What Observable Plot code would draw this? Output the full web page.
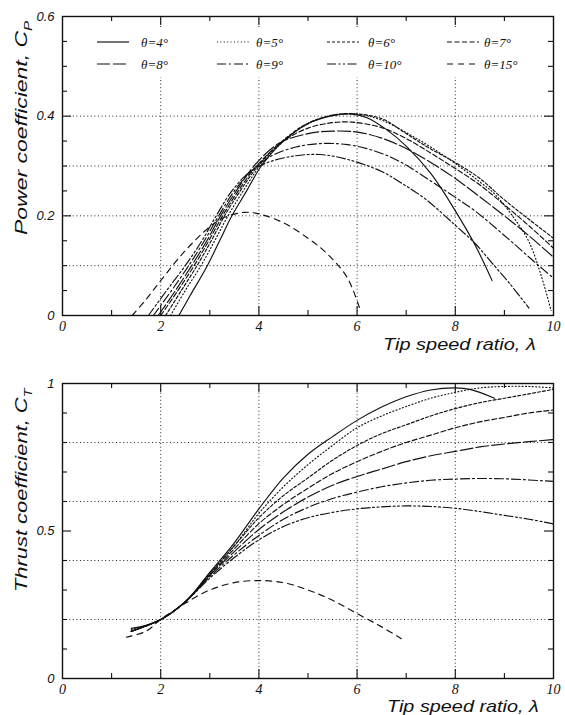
<!DOCTYPE html>
<html><head><meta charset="utf-8">
<script src="https://cdn.jsdelivr.net/npm/d3@7"></script>
<script src="https://cdn.jsdelivr.net/npm/@observablehq/plot@0.6"></script>
<style>
html,body{margin:0;padding:0;background:#fff;}
#wrap{width:565px;height:715px;overflow:hidden;}
#wrap svg{display:block;}
</style></head><body><div id="wrap"></div>
<script>
// ---------- data ----------
const theta = [4, 5, 6, 7, 8, 9, 10, 15];
const legendText = ["θ=4°", "θ=5°", "θ=6°", "θ=7°", "θ=8°", "θ=9°", "θ=10°", "θ=15°"];
const dashes = [null, "1,2.4", "3,2", "5,2.5", "13,3", "9,3,2,3", "9,2.5,2,2.5,2,2.5", "6,5"];

// Power coefficient Cp vs tip speed ratio
const cp4 = [[2.37,0],[2.6,0.04],[2.95,0.1],[3.2,0.15],[3.45,0.2],[3.75,0.25],[4.05,0.3],[4.5,0.35],[5,0.385],[5.5,0.401],[5.9,0.404],[6.2,0.397],[6.6,0.373],[7,0.34],[7.5,0.285],[8,0.21],[8.4,0.142],[8.75,0.07]];
const cp5 = [[2.2,0],[2.5,0.05],[2.82,0.1],[3.1,0.15],[3.37,0.2],[3.68,0.25],[4.02,0.3],[4.5,0.35],[5,0.385],[5.5,0.402],[6,0.404],[6.5,0.392],[7,0.367],[7.5,0.338],[8,0.305],[8.5,0.268],[8.8,0.244],[9.2,0.195],[9.5,0.148],[9.75,0.08],[9.95,0.01]];
const cp6 = [[2.1,0],[2.42,0.05],[2.74,0.1],[3.03,0.15],[3.3,0.2],[3.62,0.25],[3.98,0.3],[4.5,0.352],[5,0.386],[5.5,0.402],[5.9,0.405],[6.5,0.395],[7,0.365],[7.45,0.337],[8,0.307],[8.5,0.275],[9,0.232],[9.5,0.193],[10,0.155]];
const cp7 = [[2.0,0],[2.35,0.05],[2.68,0.1],[2.98,0.15],[3.26,0.2],[3.58,0.25],[3.95,0.3],[4.5,0.35],[5,0.376],[5.5,0.387],[5.9,0.388],[6.5,0.377],[7,0.355],[7.5,0.326],[8,0.295],[8.5,0.262],[9,0.222],[9.5,0.18],[10,0.135]];
const cp8 = [[1.95,0],[2.3,0.05],[2.63,0.1],[2.94,0.15],[3.22,0.2],[3.54,0.25],[3.9,0.3],[4.4,0.345],[5,0.365],[5.5,0.37],[6,0.368],[6.5,0.356],[7,0.335],[7.5,0.307],[8,0.275],[8.5,0.238],[9,0.2],[9.5,0.16],[10,0.117]];
const cp9 = [[1.85,0],[2.22,0.05],[2.57,0.1],[2.89,0.15],[3.18,0.2],[3.5,0.25],[3.85,0.29],[4.25,0.32],[4.75,0.338],[5.25,0.345],[5.8,0.343],[6.3,0.332],[6.85,0.31],[7.5,0.27],[8,0.237],[8.4,0.21],[9.1,0.152],[9.7,0.1],[10,0.075]];
const cp10 = [[1.75,0],[2.12,0.05],[2.5,0.1],[2.84,0.15],[3.13,0.2],[3.45,0.25],[3.8,0.287],[4.15,0.306],[4.65,0.319],[5.25,0.323],[5.85,0.312],[6.5,0.289],[6.9,0.266],[7.4,0.233],[8,0.181],[8.4,0.145],[8.75,0.105],[9.1,0.065],[9.5,0.015]];
const cp15 = [[1.42,0],[1.7,0.032],[2,0.07],[2.5,0.13],[3,0.178],[3.3,0.197],[3.7,0.207],[4,0.204],[4.5,0.186],[5,0.155],[5.4,0.123],[5.8,0.076],[6.05,0.015]];

// Thrust coefficient Ct vs tip speed ratio
const ct4 = [[1.4,0.17],[1.7,0.18],[2,0.2],[2.5,0.26],[3,0.36],[3.5,0.46],[4,0.575],[4.5,0.68],[5,0.76],[5.5,0.82],[6,0.875],[6.5,0.92],[7,0.955],[7.5,0.978],[8,0.985],[8.3,0.98],[8.8,0.95]];
const ct5 = [[1.4,0.165],[2,0.2],[2.5,0.26],[3,0.355],[3.5,0.45],[4,0.56],[4.5,0.65],[5,0.725],[5.5,0.79],[6,0.85],[6.5,0.89],[7,0.922],[7.5,0.95],[8,0.97],[8.5,0.985],[9,0.99],[9.5,0.99],[10,0.985]];
const ct6 = [[1.4,0.16],[2,0.2],[2.5,0.26],[3,0.355],[3.5,0.45],[4,0.545],[4.5,0.62],[5,0.68],[5.5,0.74],[6,0.79],[6.5,0.83],[7,0.86],[7.5,0.89],[8,0.915],[8.5,0.935],[9,0.95],[9.5,0.965],[10,0.98]];
const ct7 = [[1.4,0.16],[2,0.2],[2.5,0.26],[3,0.35],[3.5,0.44],[4,0.525],[4.5,0.59],[5,0.645],[5.5,0.695],[6,0.735],[6.5,0.77],[7,0.8],[7.5,0.825],[8,0.85],[8.5,0.87],[9,0.885],[9.5,0.9],[10,0.91]];
const ct8 = [[1.4,0.16],[2,0.2],[2.5,0.26],[3,0.35],[3.5,0.43],[4,0.505],[4.5,0.565],[5,0.615],[5.5,0.655],[6,0.685],[6.5,0.71],[7,0.735],[7.5,0.755],[8,0.77],[8.5,0.785],[9,0.795],[9.5,0.803],[10,0.81]];
const ct9 = [[1.4,0.16],[2,0.2],[2.5,0.26],[3,0.345],[3.5,0.42],[4,0.485],[4.5,0.54],[5,0.58],[5.5,0.61],[6,0.632],[6.5,0.65],[7,0.663],[7.5,0.672],[8,0.676],[8.5,0.678],[9,0.677],[9.5,0.673],[10,0.668]];
const ct10 = [[1.4,0.16],[2,0.2],[2.5,0.26],[3,0.34],[3.5,0.41],[4,0.47],[4.5,0.515],[5,0.545],[5.5,0.563],[6,0.575],[6.5,0.582],[7,0.585],[7.5,0.583],[8,0.577],[8.5,0.566],[9,0.553],[9.5,0.54],[10,0.524]];
const ct15 = [[1.3,0.14],[1.7,0.16],[2,0.2],[2.5,0.255],[3,0.3],[3.5,0.325],[4,0.332],[4.5,0.325],[5,0.3],[5.5,0.265],[6,0.22],[6.5,0.175],[6.9,0.135]];

// axes / ticks
const lamLabels = [0, 2, 4, 6, 8, 10];
const lamTicks = [1, 2, 3, 4, 5, 6, 7, 8, 9];
const lamGrid = [2, 4, 6, 8];
const cpLabels = [0, 0.2, 0.4, 0.6];
const cpTicks = [0.05, 0.1, 0.15, 0.2, 0.25, 0.3, 0.35, 0.4, 0.45, 0.5, 0.55];
const cpGrid = [0.1, 0.2, 0.3, 0.4];
const ctLabels = [0, 0.5, 1];
const ctTicks = [0.1, 0.2, 0.3, 0.4, 0.5, 0.6, 0.7, 0.8, 0.9];
const ctGrid = [0.2, 0.4, 0.6, 0.8];

const cpSeries = [cp4, cp5, cp6, cp7, cp8, cp9, cp10, cp15];
const ctSeries = [ct4, ct5, ct6, ct7, ct8, ct9, ct10, ct15];

// ---------- drawing ----------
const ink = "#111";
const serif = "'Liberation Serif','Times New Roman',serif";
const sans = "'Liberation Sans',Arial,Helvetica,sans-serif";
const W = 565;
const wrap = document.getElementById("wrap");

function isMajor(v, arr) { return arr.some(m => Math.abs(m - v) < 1e-9); }

function borderTicks(xAll, xMaj, yAll, yMaj, xDom, yDom, ux, uy) {
  const L = maj => maj ? 9 : 5;
  const c = {stroke: ink, strokeWidth: 1.1};
  return [
    Plot.ruleX(xAll, {x: d => d, y1: yDom[0], y2: d => yDom[0] + L(isMajor(d, xMaj)) * uy, ...c}),
    Plot.ruleX(xAll, {x: d => d, y1: yDom[1], y2: d => yDom[1] - L(isMajor(d, xMaj)) * uy, ...c}),
    Plot.ruleY(yAll, {y: d => d, x1: xDom[0], x2: d => xDom[0] + L(isMajor(d, yMaj)) * ux, ...c}),
    Plot.ruleY(yAll, {y: d => d, x1: xDom[1], x2: d => xDom[1] - L(isMajor(d, yMaj)) * ux, ...c})
  ];
}

function makePanel({series, yDom, height, mt, mb, grid, yLabels, yTicks, vgridTop}) {
  const innerH = height - mt - mb;
  const innerW = W - 62 - 12;
  const ux = 10 / innerW, uy = (yDom[1] - yDom[0]) / innerH;
  return Plot.plot({
    width: W, height, marginLeft: 62, marginRight: 12, marginTop: mt, marginBottom: mb,
    x: {domain: [0, 10]}, y: {domain: yDom},
    style: {background: "#fff", color: ink, overflow: "visible"},
    marks: [
      Plot.ruleY(grid, {stroke: ink, strokeWidth: 0.9, strokeDasharray: "1,2.6"}),
      Plot.ruleX(lamGrid, {y1: yDom[0], y2: vgridTop, stroke: ink, strokeWidth: 0.9, strokeDasharray: "1,2.6"}),
      ...series.map((s, i) => Plot.line(s, {
        x: d => d[0], y: d => d[1], curve: "catmull-rom",
        stroke: ink, strokeWidth: 1.15, strokeDasharray: dashes[i] || undefined
      })),
      ...borderTicks([...lamTicks], lamGrid, yTicks, yLabels, [0, 10], yDom, ux, uy),
      Plot.frame({stroke: ink, strokeWidth: 1.4}),
      Plot.axisX(lamLabels, {tickSize: 0, tickPadding: 6, fontFamily: serif, fontStyle: "italic", fontSize: 14, label: null, tickFormat: d => String(d)}),
      Plot.axisY(yLabels, {tickSize: 0, tickPadding: 8, fontFamily: sans, fontStyle: "italic", fontSize: 13, label: null, tickFormat: d => String(d)})
    ]
  });
}

const topPlot = makePanel({series: cpSeries, yDom: [0, 0.6], height: 360, mt: 16, mb: 45,
  grid: cpGrid, yLabels: cpLabels, yTicks: cpTicks, vgridTop: 0.6});
const botPlot = makePanel({series: ctSeries, yDom: [0, 1], height: 355, mt: 23, mb: 37,
  grid: ctGrid, yLabels: ctLabels, yTicks: ctTicks, vgridTop: 1});
wrap.appendChild(topPlot);
wrap.appendChild(botPlot);

// legend (inside top panel)
(function legend() {
  const svg = d3.select(topPlot);
  const g = svg.append("g").attr("text-anchor", "start");
  g.append("rect").attr("x", 86).attr("y", 27).attr("width", 460).attr("height", 50).attr("fill", "#fff");
  const colLine = [97, 217, 327, 447], colText = [141, 256, 368, 484], rows = [42, 64];
  theta.forEach((t, i) => {
    const r = Math.floor(i / 4), c = i % 4;
    const ln = g.append("line").attr("x1", colLine[c]).attr("x2", colLine[c] + 32)
      .attr("y1", rows[r]).attr("y2", rows[r]).attr("stroke", ink).attr("stroke-width", 1.15);
    if (dashes[i]) ln.attr("stroke-dasharray", dashes[i]);
    g.append("text").attr("x", colText[c]).attr("y", rows[r] + 4.5)
      .attr("font-family", serif).attr("font-style", "italic").attr("font-size", 13)
      .attr("fill", ink).text(legendText[i]);
  });
})();

function addTitle(svgNode, {x, y, rotate, text, sub, size, target}) {
  const t = d3.select(svgNode).append("text").attr("text-anchor", "start")
    .attr("font-family", sans).attr("font-style", "italic").attr("font-size", size).attr("fill", ink);
  t.append("tspan").text(text);
  if (sub) t.append("tspan").attr("font-size", size * 0.66).attr("dy", size * 0.28).text(sub);
  const w = t.node().getBBox().width;
  const s = target / w;
  t.attr("transform", `translate(${x},${y}) rotate(${rotate}) scale(${s},1)`);
}
addTitle(topPlot, {x: 27, y: 235, rotate: -90, text: "Power coefficient, C", sub: "P", size: 17, target: 215});
addTitle(topPlot, {x: 383, y: 350, rotate: 0, text: "Tip speed ratio, λ", size: 16, target: 153});
addTitle(botPlot, {x: 27, y: 232, rotate: -90, text: "Thrust coefficient, C", sub: "T", size: 17, target: 205});
addTitle(botPlot, {x: 387, y: 352, rotate: 0, text: "Tip speed ratio, λ", size: 16, target: 152});
</script>
</body></html>
